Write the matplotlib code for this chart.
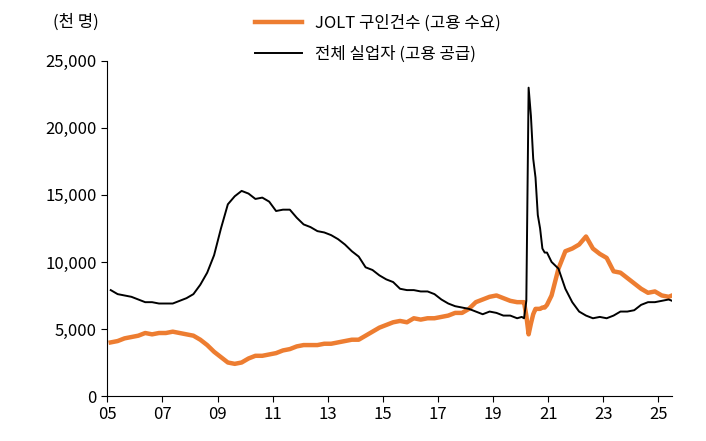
import matplotlib
matplotlib.use("Agg")
import matplotlib.pyplot as plt
import numpy as np

plt.rcParams["font.family"] = ["Noto Sans CJK KR", "Noto Sans CJK JP", "Noto Sans CJK SC", "DejaVu Sans"]

def q(year, vals):
    return [year + (i * 3 + 1.5) / 12 for i in range(len(vals))], vals

unemp_q = {
    2005: [7900, 7600, 7500, 7400], 2006: [7200, 7000, 7000, 6900],
    2007: [6900, 6900, 7100, 7300], 2008: [7600, 8300, 9200, 10500],
    2009: [12500, 14300, 14900, 15300], 2010: [15100, 14700, 14800, 14500],
    2011: [13800, 13900, 13900, 13300], 2012: [12800, 12600, 12300, 12200],
    2013: [12000, 11700, 11300, 10800], 2014: [10400, 9600, 9400, 9000],
    2015: [8700, 8500, 8000, 7900], 2016: [7900, 7800, 7800, 7600],
    2017: [7200, 6900, 6700, 6600], 2018: [6500, 6300, 6100, 6300],
    2019: [6200, 6000, 6000, 5800],
    2021: [10000, 9500, 8000, 7000], 2022: [6300, 6000, 5800, 5900],
    2023: [5800, 6000, 6300, 6300], 2024: [6400, 6800, 7000, 7000],
    2025: [7100, 7200, 7000],
}
unemp_2020 = [5900, 5800, 7100, 23000, 20900, 17700, 16300, 13500, 12500, 11000, 10700, 10700]

jolt_q = {
    2005: [4000, 4100, 4300, 4400], 2006: [4500, 4700, 4600, 4700],
    2007: [4700, 4800, 4700, 4600], 2008: [4500, 4200, 3800, 3300],
    2009: [2900, 2500, 2400, 2500], 2010: [2800, 3000, 3000, 3100],
    2011: [3200, 3400, 3500, 3700], 2012: [3800, 3800, 3800, 3900],
    2013: [3900, 4000, 4100, 4200], 2014: [4200, 4500, 4800, 5100],
    2015: [5300, 5500, 5600, 5500], 2016: [5800, 5700, 5800, 5800],
    2017: [5900, 6000, 6200, 6200], 2018: [6500, 7000, 7200, 7400],
    2019: [7500, 7300, 7100, 7000],
    2021: [7500, 9500, 10800, 11000], 2022: [11300, 11900, 11000, 10600],
    2023: [10300, 9300, 9200, 8800], 2024: [8400, 8000, 7700, 7800],
    2025: [7500, 7400, 7600],
}
jolt_2020 = [7000, 7000, 6000, 4600, 5400, 6100, 6500, 6500, 6500, 6600, 6600, 6800]

def build(qd, m2020):
    xs, ys = [], []
    for y in sorted(qd):
        if y == 2021:
            xs += [2020 + (m + 0.5) / 12 for m in range(12)]
            ys += m2020
        x, v = q(y, qd[y])
        xs += x; ys += v
    return np.array(xs), np.array(ys)

xu, yu = build(unemp_q, unemp_2020)
xj, yj = build(jolt_q, jolt_2020)

fig = plt.figure(figsize=(7.06, 4.41), dpi=100)
ax = fig.add_axes([0.152, 0.102, 0.80, 0.76])
ax.plot(xj, yj, color="#ED7D31", lw=3.2, label="JOLT 구인건수 (고용 수요)")
ax.plot(xu, yu, color="black", lw=1.4, label="전체 실업자 (고용 공급)")
ax.set_xlim(2005, 2025.5)
ax.set_ylim(0, 25000)
ax.set_xticks(range(2005, 2026, 2))
ax.set_xticklabels([f"{y % 100:02d}" for y in range(2005, 2026, 2)])
ax.set_yticks(range(0, 25001, 5000))
ax.set_yticklabels([f"{v:,}" for v in range(0, 25001, 5000)])
ax.tick_params(labelsize=12, length=4)
for s in ["top", "right"]:
    ax.spines[s].set_visible(False)
fig.text(0.075, 0.94, "(천 명)", fontsize=12)
fig.legend(loc="upper left", bbox_to_anchor=(0.34, 1.0), frameon=False,
           fontsize=12, handlelength=2.8, labelspacing=0.8)
fig.savefig("out.png", dpi=100)
